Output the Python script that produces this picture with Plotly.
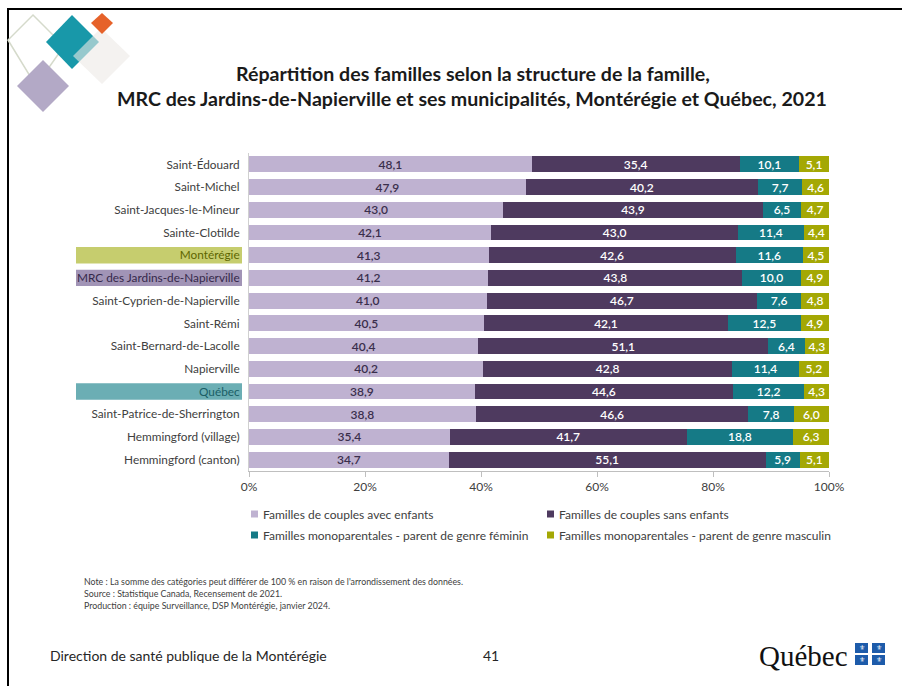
import plotly.graph_objects as go

# Categories (top to bottom) and family-structure shares (%)
categories = [
    "Saint-Édouard", "Saint-Michel", "Saint-Jacques-le-Mineur", "Sainte-Clotilde",
    "Montérégie", "MRC des Jardins-de-Napierville", "Saint-Cyprien-de-Napierville",
    "Saint-Rémi", "Saint-Bernard-de-Lacolle", "Napierville", "Québec",
    "Saint-Patrice-de-Sherrington", "Hemmingford (village)", "Hemmingford (canton)",
]
couples_avec_enfants = [48.1, 47.9, 43.0, 42.1, 41.3, 41.2, 41.0, 40.5, 40.4, 40.2, 38.9, 38.8, 35.4, 34.7]
couples_sans_enfants = [35.4, 40.2, 43.9, 43.0, 42.6, 43.8, 46.7, 42.1, 51.1, 42.8, 44.6, 46.6, 41.7, 55.1]
mono_feminin = [10.1, 7.7, 6.5, 11.4, 11.6, 10.0, 7.6, 12.5, 6.4, 11.4, 12.2, 7.8, 18.8, 5.9]
mono_masculin = [5.1, 4.6, 4.7, 4.4, 4.5, 4.9, 4.8, 4.9, 4.3, 5.2, 4.3, 6.0, 6.3, 5.1]

series_names = [
    "Familles de couples avec enfants",
    "Familles de couples sans enfants",
    "Familles monoparentales - parent de genre féminin",
    "Familles monoparentales - parent de genre masculin",
]
series_values = [couples_avec_enfants, couples_sans_enfants, mono_feminin, mono_masculin]
x_ticks = [0, 20, 40, 60, 80, 100]

# Styling
W, H = 902, 686
FONT = "Lato"
series_colors = ["#BFB2D1", "#4E3A5F", "#157A86", "#A4A804"]
label_colors = ["#3A2E4C", "white", "white", "white"]
highlights = {
    "Montérégie": ("#C6CD6E", "#5E6600"),
    "MRC des Jardins-de-Napierville": ("#A194B6", "#35284A"),
    "Québec": ("#6BAEB4", "#1A5E66"),
}


def px_x(v):
    return v / W


def px_y(v):
    return 1 - v / H


def fmt(v):
    return f"{v:.1f}".replace(".", ",")


fig = go.Figure()
for name, vals, col, tcol in zip(series_names, series_values, series_colors, label_colors):
    fig.add_trace(go.Bar(
        y=categories, x=vals, name=name, orientation="h",
        marker=dict(color=col, line=dict(width=0)),
        text=[fmt(v) for v in vals], textposition="inside",
        insidetextanchor="middle", constraintext="none",
        textfont=dict(family=FONT, size=12, color=tcol, weight=600),
        showlegend=False,
    ))

ticktext = []
for c in categories:
    if c in highlights:
        ticktext.append(f"<span style='color:{highlights[c][1]}'>{c}</span>")
    else:
        ticktext.append(c)

shapes = []
annotations = []

# highlight boxes behind selected category labels
for i, c in enumerate(categories):
    if c in highlights:
        shapes.append(dict(type="rect", xref="paper", yref="y",
                           x0=px_x(76), x1=px_x(242), y0=i - 0.36, y1=i + 0.36,
                           fillcolor=highlights[c][0], line=dict(width=0), layer="below"))

# slide frame
shapes.append(dict(type="line", xref="paper", yref="paper", x0=px_x(7), x1=1,
                   y0=px_y(9), y1=px_y(9), line=dict(color="black", width=2)))
shapes.append(dict(type="line", xref="paper", yref="paper", x0=px_x(8), x1=px_x(8),
                   y0=px_y(8), y1=0, line=dict(color="black", width=2)))


def diamond(pts, fill, line=None, opacity=1.0):
    path = "M " + " L ".join(f"{px_x(x)},{px_y(y)}" for x, y in pts) + " Z"
    d = dict(type="path", xref="paper", yref="paper", path=path, fillcolor=fill,
             line=line or dict(width=0), opacity=opacity, layer="above")
    shapes.append(d)


# decorative corner motif
diamond([(33, 15), (64, 46), (36, 86), (8, 40)], "rgba(0,0,0,0)", dict(color="#D5DACB", width=1.5))
diamond([(43, 60), (69, 86), (43, 112), (17, 86)], "#B3A9C6")
diamond([(72, 15), (99, 42), (72, 69), (46, 42)], "#1898A9")
diamond([(101, 28), (130, 56), (102, 84), (73, 56)], "#ECE9E6", opacity=0.6)
diamond([(102, 13), (113, 23), (102, 34), (91, 23)], "#E6622A")

# title
annotations.append(dict(text="<b>Répartition des familles selon la structure de la famille,</b>",
                        x=px_x(473), y=px_y(73), xref="paper", yref="paper",
                        showarrow=False, xanchor="center", yanchor="middle",
                        font=dict(family=FONT, size=19.6, color="#1A1A1A")))
annotations.append(dict(text="<b>MRC des Jardins-de-Napierville et ses municipalités, Montérégie et Québec, 2021</b>",
                        x=px_x(472), y=px_y(99), xref="paper", yref="paper",
                        showarrow=False, xanchor="center", yanchor="middle",
                        font=dict(family=FONT, size=19.6, color="#1A1A1A")))

# legend (two columns)
leg_pos = [(251, 514), (547, 514), (251, 535), (547, 535)]
for (lx, ly), name, col in zip(leg_pos, series_names, series_colors):
    shapes.append(dict(type="rect", xref="paper", yref="paper",
                       x0=px_x(lx), x1=px_x(lx + 7), y0=px_y(ly - 3.5), y1=px_y(ly + 3.5),
                       fillcolor=col, line=dict(width=0)))
    annotations.append(dict(text=name, x=px_x(lx + 10), y=px_y(ly), xref="paper", yref="paper",
                            showarrow=False, xanchor="left", yanchor="middle",
                            font=dict(family=FONT, size=12, color="#404040")))

# notes
notes = [
    "Note : La somme des catégories peut différer de 100 % en raison de l'arrondissement des données.",
    "Source : Statistique Canada, Recensement de 2021.",
    "Production : équipe Surveillance, DSP Montérégie, janvier 2024.",
]
for k, t in enumerate(notes):
    annotations.append(dict(text=t, x=px_x(82), y=px_y(581 + 12 * k), xref="paper", yref="paper",
                            showarrow=False, xanchor="left", yanchor="middle",
                            font=dict(family=FONT, size=8.8, color="#404040")))

# footer
annotations.append(dict(text="Direction de santé publique de la Montérégie", x=px_x(48), y=px_y(655),
                        xref="paper", yref="paper", showarrow=False, xanchor="left", yanchor="middle",
                        font=dict(family=FONT, size=14, color="#262626")))
annotations.append(dict(text="41", x=px_x(481), y=px_y(655), xref="paper", yref="paper",
                        showarrow=False, xanchor="left", yanchor="middle",
                        font=dict(family=FONT, size=14, color="#262626")))
annotations.append(dict(text="Québec", x=px_x(850), y=px_y(656), xref="paper", yref="paper",
                        showarrow=False, xanchor="right", yanchor="middle",
                        font=dict(family="Liberation Serif", size=29, color="#111111")))
for fx, fy in [(855, 643), (872, 643), (855, 655), (872, 655)]:
    shapes.append(dict(type="rect", xref="paper", yref="paper",
                       x0=px_x(fx), x1=px_x(fx + 13), y0=px_y(fy), y1=px_y(fy + 10),
                       fillcolor="#1D5BAA", line=dict(width=0)))
    annotations.append(dict(text="⚜", x=px_x(fx + 6.5), y=px_y(fy + 5), xref="paper", yref="paper",
                            showarrow=False, xanchor="center", yanchor="middle",
                            font=dict(family="DejaVu Sans", size=7, color="white")))

fig.update_layout(
    width=W, height=H,
    margin=dict(l=0, r=0, t=0, b=0),
    paper_bgcolor="white", plot_bgcolor="white",
    barmode="stack", barnorm="percent", bargap=0.3,
    showlegend=False,
    shapes=shapes, annotations=annotations,
    xaxis=dict(domain=[px_x(249), px_x(829)], range=[0, 100], tickvals=x_ticks,
               ticktext=[f"{t}%" for t in x_ticks], showgrid=False, zeroline=False,
               showline=True, linecolor="#BFBFBF", linewidth=1,
               ticks="outside", tickcolor="#BFBFBF", ticklen=5,
               tickfont=dict(family=FONT, size=12, color="#404040"), automargin=False),
    yaxis=dict(domain=[px_y(471), px_y(153)], range=[13.5, -0.5], type="category",
               tickvals=categories, ticktext=ticktext, showgrid=False, zeroline=False,
               showline=True, linecolor="#D0D0D0", linewidth=1, ticks="",
               ticklabelstandoff=6,
               tickfont=dict(family=FONT, size=11.8, color="#404040"), automargin=False),
)

fig.write_html("out.html")
